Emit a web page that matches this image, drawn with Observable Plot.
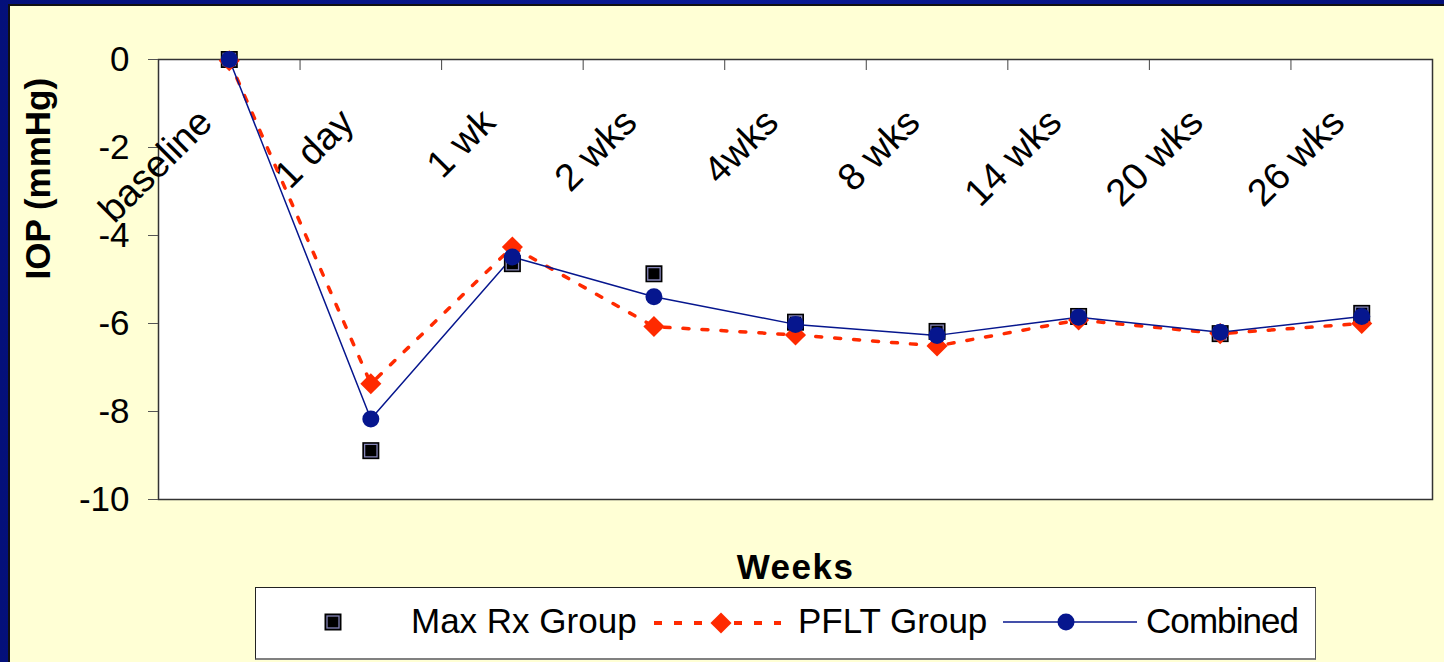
<!DOCTYPE html>
<html><head><meta charset="utf-8">
<script src="https://cdn.jsdelivr.net/npm/d3@7"></script>
<script src="https://cdn.jsdelivr.net/npm/@observablehq/plot@0.6"></script>
<style>
html,body{margin:0;padding:0;}
body{width:1444px;height:662px;overflow:hidden;position:relative;background:linear-gradient(90deg,#04107a 0%,#0a1a96 50%,#04107a 100%);font-family:"Liberation Sans",Arial,sans-serif;}
#panel{position:absolute;left:8px;top:4px;right:0;bottom:0;background:#ffffd5;border-left:2px solid #111;border-top:2px solid #111;}
#chart{position:absolute;left:0;top:0;}
#legend{position:absolute;left:255px;top:587px;width:1061px;height:73px;box-sizing:border-box;background:#fff;border:1px solid #222;border-right:1px solid #555;border-bottom:2px solid #808080;}
#legend svg{position:absolute;left:0;top:0;}
</style></head>
<body>
<div id="panel"></div>
<div id="chart"></div>
<div id="legend"></div>
<script>
const categories = ["baseline","1 day","1 wk","2 wks","4wks","8 wks","14 wks","20 wks","26 wks"];
const maxRx    = [0, -8.89, -4.64, -4.87, -5.97, -6.18, -5.84, -6.23, -5.77];
const pflt     = [-0.03, -7.37, -4.26, -6.07, -6.26, -6.51, -5.92, -6.23, -6.0];
const combined = [0, -8.17, -4.49, -5.39, -6.02, -6.27, -5.86, -6.2, -5.84];
const yTicks = [0, -2, -4, -6, -8, -10];
const seriesNames = ["Max Rx Group", "PFLT Group", "Combined"];
const yLabel = "IOP (mmHg)";
const xLabel = "Weeks";

const BLUE = "#06168e", RED = "#ff2a00";
const rows = vals => categories.map((c, i) => ({cat: c, x: i + 0.5, y: vals[i]}));
const rMax = rows(maxRx), rPflt = rows(pflt), rComb = rows(combined);
const boundaries = d3.range(1, categories.length);

const chart = Plot.plot({
  width: 1444, height: 590,
  marginLeft: 158, marginRight: 12, marginTop: 59, marginBottom: 91,
  style: {background: "transparent", fontFamily: "Liberation Sans, Arial, sans-serif", overflow: "visible", color: "black"},
  x: {domain: [0, categories.length]},
  y: {domain: [-10, 0]},
  marks: [
    Plot.frame({fill: "white", stroke: "#333", strokeWidth: 1.5}),
    Plot.axisX({anchor: "top", ticks: boundaries, tickSize: 10, dy: 10, tickFormat: () => "", stroke: "#444", label: null}),
    Plot.axisY({ticks: yTicks, tickSize: 10, tickPadding: 19, fontSize: 35, stroke: "#555", label: null, tickFormat: d => String(d)}),
    Plot.text(categories, {x: (d, i) => i + 0.5, frameAnchor: "top", dx: -15, dy: 65, rotate: -45, textAnchor: "end", lineAnchor: "bottom", fontSize: 38, fill: "black"}),
    Plot.text([yLabel], {frameAnchor: "left", dx: -120, rotate: -90, fontSize: 35, fontWeight: "bold", fill: "black"}),
    Plot.text([xLabel], {frameAnchor: "bottom", dy: 79, lineAnchor: "bottom", fontSize: 35, fontWeight: "bold", fill: "black", className: "xlab"}),
    Plot.line(rPflt, {x: "x", y: "y", stroke: RED, strokeWidth: 3.5, strokeDasharray: "6,13"}),
    Plot.line(rComb, {x: "x", y: "y", stroke: BLUE, strokeWidth: 1.5}),
    Plot.dot(rMax, {x: "x", y: "y", symbol: "square", r: 9.6, fill: "black"}),
    Plot.dot(rMax, {x: "x", y: "y", symbol: "square", r: 7, fill: "black", stroke: "#8585b8", strokeWidth: 1.3}),
    Plot.dot(rPflt, {x: "x", y: "y", symbol: "diamond2", r: 9.5, fill: RED}),
    Plot.dot(rComb, {x: "x", y: "y", symbol: "circle", r: 8.5, fill: BLUE})
  ]
});
document.getElementById("chart").appendChild(chart);
d3.select(chart).selectAll(".xlab text").style("letter-spacing", "1.5px");

// Legend
const lg = d3.select("#legend").append("svg").attr("width", 1061).attr("height", 73);
const cy = 34, tb = 45;
// Max Rx
lg.append("rect").attr("x", 77 - 8.5).attr("y", cy - 8.5).attr("width", 17).attr("height", 17).attr("fill", "black");
lg.append("rect").attr("x", 77 - 6).attr("y", cy - 6).attr("width", 12).attr("height", 12).attr("fill", "black").attr("stroke", "#8585b8").attr("stroke-width", 1.3);
lg.append("text").attr("x", 155).attr("y", tb).attr("font-size", 35).text(seriesNames[0]);
// PFLT
lg.append("line").attr("x1", 398).attr("x2", 525).attr("y1", cy + 1).attr("y2", cy + 1).attr("stroke", RED).attr("stroke-width", 4).attr("stroke-dasharray", "8,12");
lg.append("path").attr("d", d3.symbol(d3.symbolDiamond2, Math.PI * 9.5 * 9.5)()).attr("transform", `translate(465,${cy + 1})`).attr("fill", RED);
lg.append("text").attr("x", 542).attr("y", tb).attr("font-size", 35).text(seriesNames[1]);
// Combined
lg.append("line").attr("x1", 747).attr("x2", 881).attr("y1", cy).attr("y2", cy).attr("stroke", BLUE).attr("stroke-width", 1.5);
lg.append("circle").attr("cx", 810).attr("cy", cy).attr("r", 8.5).attr("fill", BLUE);
lg.append("text").attr("x", 890).attr("y", tb).attr("font-size", 35).attr("textLength", 153).text(seriesNames[2]);
lg.selectAll("text").attr("font-family", "Liberation Sans, Arial, sans-serif").attr("fill", "black");
</script>
</body></html>
